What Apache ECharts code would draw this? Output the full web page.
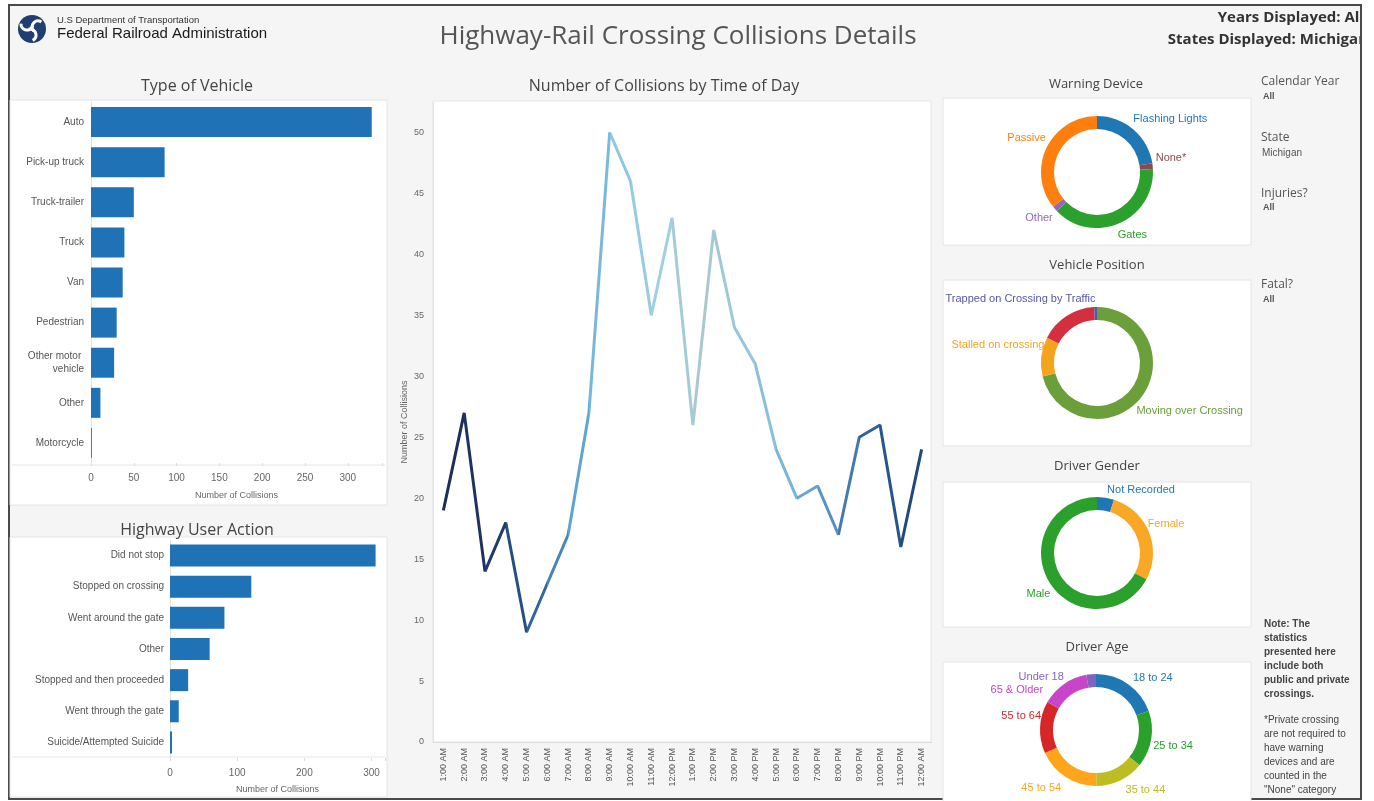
<!DOCTYPE html>
<html>
<head>
<meta charset="utf-8">
<script src="https://cdn.jsdelivr.net/npm/echarts@6/dist/echarts.min.js"></script>
<style>
  html, body { margin: 0; padding: 0; background: #fff; }
  #main { width: 1374px; height: 801px; }
</style>
</head>
<body>
<div id="main"></div>
<script>
// ---- data ----
const vehicleTypes = ['Auto', 'Pick-up truck', 'Truck-trailer', 'Truck', 'Van', 'Pedestrian', 'Other motor vehicle', 'Other', 'Motorcycle'];
const vehicleCounts = [328, 86, 50, 39, 37, 30, 27, 11, 1];

const userActions = ['Did not stop', 'Stopped on crossing', 'Went around the gate', 'Other', 'Stopped and then proceeded', 'Went through the gate', 'Suicide/Attempted Suicide'];
const userActionCounts = [306, 121, 81, 59, 27, 13, 3];

const hours = ['1:00 AM', '2:00 AM', '3:00 AM', '4:00 AM', '5:00 AM', '6:00 AM', '7:00 AM', '8:00 AM', '9:00 AM', '10:00 AM', '11:00 AM', '12:00 PM',
  '1:00 PM', '2:00 PM', '3:00 PM', '4:00 PM', '5:00 PM', '6:00 PM', '7:00 PM', '8:00 PM', '9:00 PM', '10:00 PM', '11:00 PM', '12:00 AM'];
const hourlyCollisions = [19, 27, 14, 18, 9, 13, 17, 27, 50, 46, 35, 43, 26, 42, 34, 31, 24, 20, 21, 17, 25, 26, 16, 24];

const warningDevices = ['Flashing Lights', 'None*', 'Gates', 'Other', 'Passive'];
const warningCounts = [137, 10, 234, 10, 217];

const vehiclePositions = ['Moving over Crossing', 'Stalled on crossing', 'Stopped on Crossing', 'Trapped on Crossing by Traffic'];
const positionCounts = [434, 69, 102, 5];

const genders = ['Not Recorded', 'Female', 'Male'];
const genderCounts = [30, 170, 410];

const ageGroups = ['18 to 24', '25 to 34', '35 to 44', '45 to 54', '55 to 64', '65 & Older', 'Under 18'];
const ageCounts = [119, 100, 86, 112, 92, 85, 17];

// ---- styling ----
const TITLE_FONT = '"Open Sans", Lato, sans-serif';
const AXIS_FONT = '"Liberation Sans", Arial, sans-serif';
const BAR_BLUE = '#1f72b5';

const chart = echarts.init(document.getElementById('main'));

function txt(text, x, y, size, opts) {
  opts = opts || {};
  return {
    type: 'text', z: opts.z || 5,
    style: {
      text: text, x: x, y: y,
      fill: opts.color || '#444',
      font: (opts.weight || 'normal') + ' ' + size + 'px ' + (opts.family || TITLE_FONT),
      align: opts.align || 'left', verticalAlign: 'middle'
    }
  };
}

function panel(x, y, w, h) {
  return { type: 'rect', z: -5, shape: { x: x, y: y, width: w, height: h },
    style: { fill: '#fff', stroke: '#e4e4e4', lineWidth: 1 } };
}

// nudges keep the outside labels where the dashboard put them
function donut(names, values, colors, center, nudges, hidden) {
  return {
    type: 'pie', radius: [43, 56], center: center, startAngle: 90, clockwise: true,
    avoidLabelOverlap: false,
    data: names.map((n, i) => ({
      name: n, value: values[i],
      itemStyle: { color: colors[i] },
      label: { show: !(hidden && hidden.includes(n)), color: colors[i] }
    })),
    label: { position: 'outside', fontFamily: AXIS_FONT, fontSize: 11 },
    labelLine: { show: false, length: 3, length2: 2 },
    labelLayout: p => {
      const d = nudges[p.dataIndex] || [0, 0];
      return { hideOverlap: false, dx: d[0], dy: d[1] };
    },
    emphasis: { disabled: true }
  };
}

const catLabel = { fontFamily: AXIS_FONT, fontSize: 10, color: '#555' };

const option = {
  backgroundColor: '#fff',
  animation: false,
  graphic: { elements: [
    { type: 'rect', z: -10, shape: { x: 9, y: 5, width: 1352, height: 794 },
      style: { fill: '#f5f5f5', stroke: '#4a4a4a', lineWidth: 2 } },
    // panels
    panel(10, 100, 377, 405),
    panel(10, 537, 377, 260),
    panel(433, 101, 498, 641),
    panel(943, 98, 308, 147),
    panel(943, 280, 308, 166),
    panel(943, 482, 308, 145),
    panel(943, 662, 308, 140),
    { type: 'line', z: -4, shape: { x1: 12, y1: 465, x2: 385, y2: 465 }, style: { stroke: '#e6e6e6', lineWidth: 1 } },
    { type: 'line', z: -4, shape: { x1: 12, y1: 757, x2: 385, y2: 757 }, style: { stroke: '#e6e6e6', lineWidth: 1 } },
    // logo
    { type: 'circle', z: 5, shape: { cx: 32, cy: 29, r: 14 }, style: { fill: '#1f3f73' } },
    { type: 'arc', z: 6, shape: { cx: 27, cy: 24, r: 6, startAngle: 0.3, endAngle: 3.2 }, style: { stroke: '#fff', lineWidth: 3, fill: null } },
    { type: 'arc', z: 6, shape: { cx: 38, cy: 27, r: 6, startAngle: 2.4, endAngle: 5.3 }, style: { stroke: '#fff', lineWidth: 3, fill: null } },
    { type: 'arc', z: 6, shape: { cx: 30, cy: 35, r: 6, startAngle: 4.5, endAngle: 7.4 }, style: { stroke: '#fff', lineWidth: 3, fill: null } },
    txt('U.S Department of Transportation', 57, 20, 9.5, { color: '#333', family: AXIS_FONT }),
    txt('Federal Railroad Administration', 57, 34, 15, { color: '#1a1a1a', family: AXIS_FONT }),
    // headline
    txt('Highway-Rail Crossing Collisions Details', 678, 37, 26, { align: 'center', color: '#555' }),
    txt('Years Displayed: All', 1364, 18, 15, { align: 'right', weight: 'bold', color: '#333' }),
    txt('States Displayed: Michigan', 1368, 40, 15, { align: 'right', weight: 'bold', color: '#333' }),
    { type: 'rect', z: 20, shape: { x: 1362, y: 0, width: 12, height: 801 }, style: { fill: '#fff' } },
    { type: 'line', z: 21, shape: { x1: 1361, y1: 4, x2: 1361, y2: 800 }, style: { stroke: '#4a4a4a', lineWidth: 2 } },
    // panel titles
    txt('Type of Vehicle', 197, 86, 16, { align: 'center' }),
    txt('Highway User Action', 197, 530, 16, { align: 'center' }),
    txt('Number of Collisions by Time of Day', 664, 86, 16, { align: 'center' }),
    txt('Warning Device', 1096, 84, 13, { align: 'center' }),
    txt('Vehicle Position', 1097, 265, 13, { align: 'center' }),
    txt('Driver Gender', 1097, 466, 13, { align: 'center' }),
    txt('Driver Age', 1097, 647, 13, { align: 'center' }),
    // filters
    txt('Calendar Year', 1261, 82, 12, { color: '#555' }),
    txt('All', 1263, 97, 9, { color: '#555', weight: 'bold', family: AXIS_FONT }),
    txt('State', 1261, 138, 12, { color: '#555' }),
    txt('Michigan', 1262, 153, 10, { color: '#555', family: AXIS_FONT }),
    txt('Injuries?', 1261, 194, 12, { color: '#555' }),
    txt('All', 1263, 208, 9, { color: '#555', weight: 'bold', family: AXIS_FONT }),
    txt('Fatal?', 1261, 285, 12, { color: '#555' }),
    txt('All', 1263, 300, 9, { color: '#555', weight: 'bold', family: AXIS_FONT }),
    { type: 'text', z: 5, style: { x: 1264, y: 617, text: 'Note: The\nstatistics\npresented here\ninclude both\npublic and private\ncrossings.',
      font: 'bold 10px ' + AXIS_FONT, fill: '#444', lineHeight: 14 } },
    { type: 'text', z: 5, style: { x: 1264, y: 713, text: '*Private crossing\nare not required to\nhave warning\ndevices and are\ncounted in the\n"None" category',
      font: '10px ' + AXIS_FONT, fill: '#444', lineHeight: 14 } }
  ] },
  grid: [
    { left: 91, top: 102, width: 291, height: 361 },
    { left: 170, top: 540, width: 215, height: 218 },
    { left: 433, top: 102, width: 499, height: 640 }
  ],
  xAxis: [
    { type: 'value', gridIndex: 0, min: 0, max: 340, interval: 50,
      axisLabel: Object.assign({ formatter: v => (v % 50 === 0 ? v : ''), margin: 10 }, catLabel, { color: '#666' }),
      axisLine: { show: false }, axisTick: { show: true, length: 3, lineStyle: { color: '#ddd' } }, splitLine: { show: false },
      name: 'Number of Collisions', nameLocation: 'middle', nameGap: 28,
      nameTextStyle: { fontFamily: AXIS_FONT, fontSize: 9, color: '#666' } },
    { type: 'value', gridIndex: 1, min: 0, max: 320, interval: 100,
      axisLabel: Object.assign({ formatter: v => (v % 100 === 0 ? v : ''), margin: 10 }, catLabel, { color: '#666' }),
      axisLine: { show: false }, axisTick: { show: true, length: 3, lineStyle: { color: '#ddd' } }, splitLine: { show: false },
      name: 'Number of Collisions', nameLocation: 'middle', nameGap: 27,
      nameTextStyle: { fontFamily: AXIS_FONT, fontSize: 9, color: '#666' } },
    { type: 'category', gridIndex: 2, data: hours, boundaryGap: true,
      axisLabel: Object.assign({ rotate: 90, interval: 0, margin: 6 }, catLabel, { fontSize: 9 }),
      axisLine: { lineStyle: { color: '#ddd' } }, axisTick: { show: false } }
  ],
  yAxis: [
    { type: 'category', gridIndex: 0, data: vehicleTypes, inverse: true,
      axisLabel: Object.assign({ width: 72, overflow: 'break', margin: 7, lineHeight: 13 }, catLabel),
      axisLine: { lineStyle: { color: '#e2e2e2' } }, axisTick: { show: false } },
    { type: 'category', gridIndex: 1, data: userActions, inverse: true,
      axisLabel: Object.assign({ margin: 6 }, catLabel),
      axisLine: { lineStyle: { color: '#e2e2e2' } }, axisTick: { show: false } },
    { type: 'value', gridIndex: 2, min: 0, max: 52.5, interval: 5,
      axisLabel: Object.assign({ formatter: v => (v % 5 === 0 ? v : ''), margin: 9 }, catLabel, { fontSize: 9, color: '#666' }),
      axisLine: { show: true, lineStyle: { color: '#e2e2e2' } }, splitLine: { show: false },
      name: 'Number of Collisions', nameLocation: 'middle', nameGap: 24,
      nameTextStyle: { fontFamily: AXIS_FONT, fontSize: 9, color: '#666' } }
  ],
  visualMap: {
    show: false, type: 'continuous', seriesIndex: 2, dimension: 0, min: 0, max: 23,
    inRange: { color: ['#1b2d58', '#1d3565', '#2a5a8f', '#5a9fd0', '#8cc8e2', '#a0cfe0',
      '#a8c9cf', '#95c7dc', '#76b5d9', '#4f8ac0', '#2a5a90', '#1f4477'] }
  },
  series: [
    { type: 'bar', xAxisIndex: 0, yAxisIndex: 0, data: vehicleCounts, barWidth: 30,
      itemStyle: { color: BAR_BLUE }, emphasis: { disabled: true } },
    { type: 'bar', xAxisIndex: 1, yAxisIndex: 1, data: userActionCounts, barWidth: 22,
      itemStyle: { color: BAR_BLUE }, emphasis: { disabled: true } },
    { type: 'line', xAxisIndex: 2, yAxisIndex: 2, data: hourlyCollisions, symbol: 'none',
      lineStyle: { width: 3 } },
    donut(warningDevices, warningCounts, ['#1f77b4', '#8c4a4f', '#2ca02c', '#9467bd', '#ff7f0e'], [1097, 172],
      [[-9, -8], [-7, -8], [-10, 9], [7, 7], [9, -8]]),
    donut(vehiclePositions, positionCounts, ['#6b9f3a', '#f5a41e', '#d42f3f', '#5558a8'], [1097, 363],
      [[-14, 12], [13, -11], [0, 0], [7, -5]], ['Stopped on Crossing']),
    donut(genders, genderCounts, ['#1f77b4', '#f9a825', '#2ca02c'], [1097, 553],
      [[-6, -5], [-11, -7], [11, 11]]),
    donut(ageGroups, ageCounts, ['#1f77b4', '#2ca02c', '#bcbd22', '#ffa51c', '#d62728', '#c844c8', '#8064c0'], [1096, 730],
      [[-4, -4], [-8, 6], [-3, 7], [4, 8], [11, -11], [-12, 8], [-20, 6]])
  ]
};

chart.setOption(option);
</script>
</body>
</html>
